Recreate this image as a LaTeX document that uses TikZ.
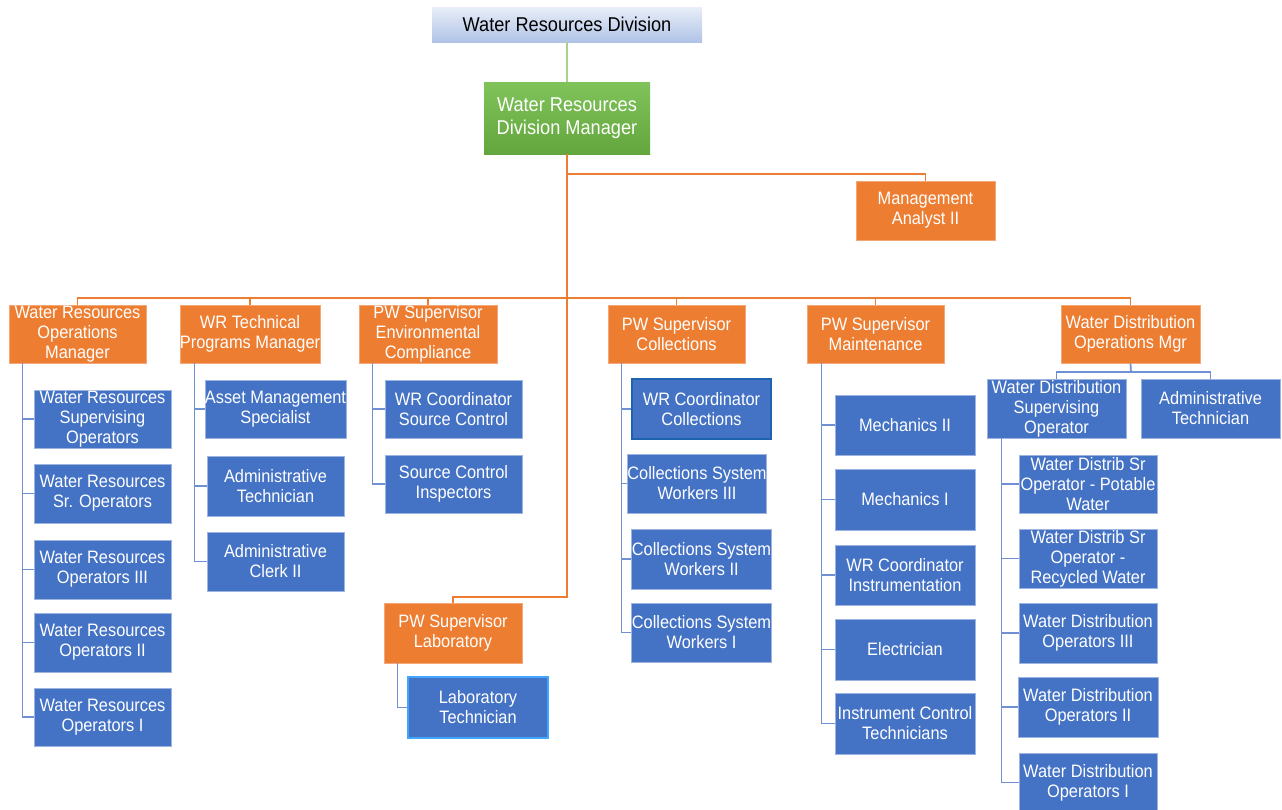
\documentclass[tikz,border=0pt]{standalone}
\usepackage{fontspec}
\setmainfont{Liberation Sans}[FakeStretch=0.91]
\usetikzlibrary{calc}

\definecolor{cblue}{HTML}{4472C4}
\definecolor{cblueedge}{HTML}{9DB3E0}
\definecolor{cblueline}{HTML}{6F90D2}
\definecolor{corange}{HTML}{ED7D31}
\definecolor{corangeedge}{HTML}{F4A777}
\definecolor{cgreentop}{HTML}{80C35A}
\definecolor{cgreenbot}{HTML}{62A63D}
\definecolor{cgreenline}{HTML}{A9D18E}
\definecolor{ctitletop}{HTML}{E9EEF8}
\definecolor{ctitlebot}{HTML}{B0C3E6}
\definecolor{chidark}{HTML}{1F63B0}
\definecolor{chilight}{HTML}{42A5FF}

% place a box by its corners: style, x1, y1, x2, y2, name; the text follows
\newcommand\chartbox[6]{\node[#1, minimum width={#4-#2}, minimum height={#5-#3}] (#6) at ({(#2+#4)/2},{(#3+#5)/2})}

\begin{document}
\begin{tikzpicture}[x=1pt,y=-1pt,
  box/.style={inner sep=0pt, align=center, text=white, font=\fontsize{18}{20}\selectfont},
  bluebox/.style={box, fill=cblue, draw=cblueedge, line width=0.8pt},
  orangebox/.style={box, fill=corange, draw=corangeedge, line width=0.8pt},
  oline/.style={draw=corange, line width=1.4pt},
  bline/.style={draw=cblueline, line width=1.7pt},
]
\useasboundingbox (0,0) rectangle (1282,809);

% top of the hierarchy
\chartbox{box, top color=ctitletop, bottom color=ctitlebot, text=black, font=\fontsize{20}{24}\selectfont}{432}{7}{702}{42}{title} {Water Resources Division};
\chartbox{box, top color=cgreentop, bottom color=cgreenbot, font=\fontsize{20}{23}\selectfont}{484}{82}{650}{154}{mgr} {Water Resources\\Division Manager};
\chartbox{orangebox}{856}{181}{995}{240}{analyst} {Management\\Analyst II};

% second level
\chartbox{orangebox}{9}{305}{146}{363}{opsm} {Water Resources\\Operations\\Manager};
\chartbox{orangebox}{181}{305}{319}{363}{techm} {WR Technical\\Programs Manager};
\chartbox{orangebox}{359}{305}{497}{363}{envm} {PW Supervisor\\Environmental\\Compliance};
\chartbox{orangebox}{608}{305}{745}{363}{collm} {PW Supervisor\\Collections};
\chartbox{orangebox}{807}{305}{944}{363}{maintm} {PW Supervisor\\Maintenance};
\chartbox{orangebox}{1061}{305}{1200}{363}{wdm} {Water Distribution\\Operations Mgr};
\chartbox{orangebox}{384}{603}{522}{663}{labm} {PW Supervisor\\Laboratory};

% operations staff
\chartbox{bluebox}{34}{390}{171}{448}{o1} {Water Resources\\Supervising\\Operators};
\chartbox{bluebox}{34}{464}{171}{523}{o2} {Water Resources\\Sr. Operators};
\chartbox{bluebox}{34}{540}{171}{599}{o3} {Water Resources\\Operators III};
\chartbox{bluebox}{34}{613}{171}{672}{o4} {Water Resources\\Operators II};
\chartbox{bluebox}{34}{688}{171}{746}{o5} {Water Resources\\Operators I};

% technical programs staff
\chartbox{bluebox}{207}{380}{344}{438}{t1} {Asset Management\\Specialist};
\chartbox{bluebox}{207}{456}{344}{516}{t2} {Administrative\\Technician};
\chartbox{bluebox}{207}{532}{344}{591}{t3} {Administrative\\Clerk II};

% environmental compliance staff
\chartbox{bluebox}{385}{380}{522}{438}{e1} {WR Coordinator\\Source Control};
\chartbox{bluebox}{385}{455}{522}{513}{e2} {Source Control\\Inspectors};

% collections staff
\chartbox{bluebox, draw=chidark, line width=2pt}{632}{379}{771}{439}{c1} {WR Coordinator\\Collections};
\chartbox{bluebox}{628}{454}{766}{513}{c2} {Collections System\\Workers III};
\chartbox{bluebox}{632}{529}{771}{589}{c3} {Collections System\\Workers II};
\chartbox{bluebox}{632}{603}{771}{662}{c4} {Collections System\\Workers I};

% laboratory staff
\chartbox{bluebox, draw=chilight, line width=2pt}{408}{677}{548}{738}{lt} {Laboratory\\Technician};

% maintenance staff
\chartbox{bluebox}{835}{395}{975}{455}{m1} {Mechanics II};
\chartbox{bluebox}{835}{469}{975}{530}{m2} {Mechanics I};
\chartbox{bluebox}{835}{545}{975}{605}{m3} {WR Coordinator\\Instrumentation};
\chartbox{bluebox}{835}{619}{975}{680}{m4} {Electrician};
\chartbox{bluebox}{835}{693}{975}{754}{m5} {Instrument Control\\Technicians};

% water distribution staff
\chartbox{bluebox}{987}{379}{1126}{438}{wdso} {Water Distribution\\Supervising\\Operator};
\chartbox{bluebox}{1141}{379}{1280}{438}{wdat} {Administrative\\Technician};
\chartbox{bluebox}{1019}{455}{1157}{513}{w1} {Water Distrib Sr\\Operator - Potable\\Water};
\chartbox{bluebox}{1019}{529}{1157}{588}{w2} {Water Distrib Sr\\Operator -\\Recycled Water};
\chartbox{bluebox}{1019}{603}{1157}{663}{w3} {Water Distribution\\Operators III};
\chartbox{bluebox}{1018}{677}{1158}{737}{w4} {Water Distribution\\Operators II};
\chartbox{bluebox}{1019}{753}{1157}{812}{w5} {Water Distribution\\Operators I};

% junction points of the orange tree
\coordinate (hubA) at (567,174);
\coordinate (hub) at (567,298);
\coordinate (labturn) at (567,597);
\coordinate (wdhub) at (1131,372);

% connectors
\draw[draw=cgreenline, line width=1.4pt] (title.south) -- (mgr.north);
\draw[oline] (mgr.south) -- (hub) -- (labturn) -| (labm.north);
\draw[oline] (hubA) -| (analyst.north);
\foreach \n in {opsm,techm,envm,collm,maintm,wdm}
  \draw[oline] (hub) -| (\n.north);

\foreach \n in {o1,o2,o3,o4,o5}
  \draw[bline] ([xshift=14pt]opsm.south west) |- (\n.west);
\foreach \n in {t1,t2,t3}
  \draw[bline] ([xshift=15pt]techm.south west) |- (\n.west);
\foreach \n in {e1,e2}
  \draw[bline] ([xshift=14pt]envm.south west) |- (\n.west);
\foreach \n in {c1,c2,c3,c4}
  \draw[bline] ([xshift=14pt]collm.south west) |- (\n.west);
\draw[bline] ([xshift=14pt]labm.south west) |- (lt.west);
\foreach \n in {m1,m2,m3,m4,m5}
  \draw[bline] ([xshift=15pt]maintm.south west) |- (\n.west);
\draw[bline] (wdm.south) -- (wdhub);
\foreach \n in {wdso,wdat}
  \draw[bline] (wdhub) -| (\n.north);
\foreach \n in {w1,w2,w3,w4,w5}
  \draw[bline] ([xshift=15pt]wdso.south west) |- (\n.west);
\end{tikzpicture}
\end{document}
